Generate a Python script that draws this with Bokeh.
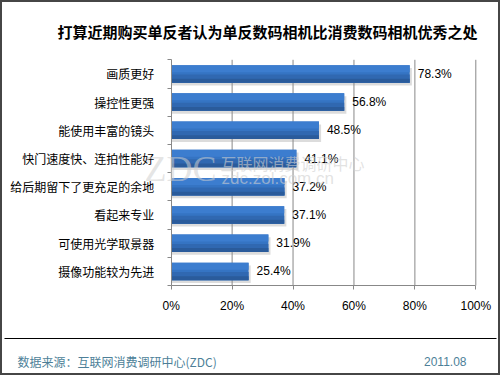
from bokeh.plotting import figure
from bokeh.models import Range1d, FixedTicker, Label, BoxAnnotation, ColumnDataSource
from bokeh.core.properties import value
from bokeh.embed import file_html
from bokeh.resources import INLINE

# ---- data ----
title_text = "打算近期购买单反者认为单反数码相机比消费数码相机优秀之处"
categories = ["画质更好", "操控性更强", "能使用丰富的镜头", "快门速度快、连拍性能好",
              "给后期留下了更充足的余地", "看起来专业", "可使用光学取景器", "摄像功能较为先进"]
values = [78.3, 56.8, 48.5, 41.1, 37.2, 37.1, 31.9, 25.4]
x_ticks = [0, 20, 40, 60, 80, 100]
x_tick_labels = ["0%", "20%", "40%", "60%", "80%", "100%"]
source_text = "数据来源：互联网消费调研中心(ZDC)"
date_text = "2011.08"

n = len(categories)
pos = [n - i - 0.5 for i in range(n)]
labels = [f"{v}%" for v in values]
H = 0.62

# ---- layout (pixels) ----
W, HT = 500, 375
PX_L, PX_R = 170.7, 475.3      # page x of 0% and 100%
PX_T, PX_B = 59.3, 285.0       # page y of top and bottom of the category band
xs = (PX_R - PX_L) / 100.0
ys = (PX_B - PX_T) / n
x_range = Range1d(-PX_L / xs, 100 + (W - PX_R) / xs)
y_range = Range1d(-(HT - PX_B) / ys, n + PX_T / ys)

p = figure(width=W, height=HT, output_backend="svg", toolbar_location=None,
           x_range=x_range, y_range=y_range, title=None, min_border=0,
           background_fill_color="white", border_fill_color="white")
p.outline_line_color = "#464646"
p.outline_line_width = 3
p.grid.visible = False

grid_color = "#888888"
# vertical gridlines at the tick values
p.segment(x0=x_ticks[1:], x1=x_ticks[1:], y0=0, y1=n, line_color=grid_color, line_width=1)

src = ColumnDataSource(dict(
    y=pos, v=values, lab=labels,
    ysh=[y - 0.1 for y in pos], vsh=[v + 0.7 for v in values],
    ytop=[y + H * 0.3 for y in pos],
    ybot=[y - H * 0.27 for y in pos],
    ybot2=[y - H * 0.39 for y in pos],
))
# shadow
p.hbar(y="ysh", right="vsh", left=0, height=H, source=src,
       fill_color="#8c8c8c", fill_alpha=0.3, line_color=None)
# bar with a stepped gradient
p.hbar(y="y", right="v", left=0, height=H, source=src,
       fill_color="#3574c3", line_color=None)
p.hbar(y="ytop", right="v", left=0, height=H * 0.4, source=src,
       fill_color="#3c7dcf", line_color=None)
p.hbar(y="ybot", right="v", left=0, height=H * 0.46, source=src,
       fill_color="#3068b1", line_color=None)
p.hbar(y="ybot2", right="v", left=0, height=H * 0.22, source=src,
       fill_color="#2a5b9b", line_color=None)

p.text(x="v", y="y", text="lab", source=src, x_offset=8,
       text_font=value("Liberation Sans"), text_font_size="12px",
       text_color="black", text_baseline="middle", text_align="left")

# axes drawn at fixed locations inside the full-canvas frame
xa = p.xaxis[0]
xa.fixed_location = 0
xa.bounds = (0, 100)
xa.ticker = FixedTicker(ticks=x_ticks)
xa.major_label_overrides = {t: l for t, l in zip(x_ticks, x_tick_labels)}
xa.major_label_text_font = "Liberation Sans"
xa.major_label_text_font_size = "12px"
xa.major_label_text_color = "black"
xa.major_tick_out = 4
xa.major_tick_in = 0
xa.minor_tick_line_color = None
xa.major_label_standoff = 9
xa.axis_line_color = grid_color
xa.major_tick_line_color = grid_color

ya = p.yaxis[0]
ya.fixed_location = 0
ya.bounds = (0, n)
ya.ticker = FixedTicker(ticks=pos, minor_ticks=list(range(n + 1)))
ya.major_label_overrides = {y: c for y, c in zip(pos, categories)}
ya.major_label_text_font = "Noto Sans CJK SC"
ya.major_label_text_font_size = "12px"
ya.major_label_text_color = "black"
ya.major_tick_out = 0
ya.major_tick_in = 0
ya.minor_tick_out = 4
ya.minor_tick_in = 0
ya.minor_tick_line_color = grid_color
ya.major_label_standoff = 13
ya.axis_line_color = grid_color


def add_label(text, px, py, font, size, color, align="left", weight="normal", alpha=1.0):
    p.add_layout(Label(x=px, y=HT - py, x_units="screen", y_units="screen",
                       text=text, text_font=font, text_font_size=size,
                       text_color=color, text_align=align, text_baseline="middle",
                       text_font_style=weight, text_alpha=alpha))


# watermark
add_label("ZDC", 216, 168, "Liberation Sans Narrow", "36px", "#cfcfcf", align="right", alpha=0.55)
add_label("互联网消费调研中心", 220, 162, "Noto Sans CJK SC", "16px", "#cfcfcf", alpha=0.6)
add_label("zdc.zol.com.cn", 221, 178, "Liberation Sans", "17px", "#cfcfcf", alpha=0.6)

# title
add_label(title_text, 57, 30.5, "Noto Sans CJK SC", "15px", "black", weight="bold")

# footer
p.add_layout(BoxAnnotation(left=4, right=496, top=HT - 337.5, bottom=HT - 338.5,
                           left_units="screen", right_units="screen",
                           top_units="screen", bottom_units="screen",
                           fill_color="black", fill_alpha=1, line_color=None))
add_label(source_text, 17, 361, "Noto Sans CJK SC", "12px", "#4d7f98")
add_label(date_text, 466, 361, "Liberation Sans", "12px", "#4d7f98", align="right")

open("out.html", "w").write(file_html(p, INLINE))
